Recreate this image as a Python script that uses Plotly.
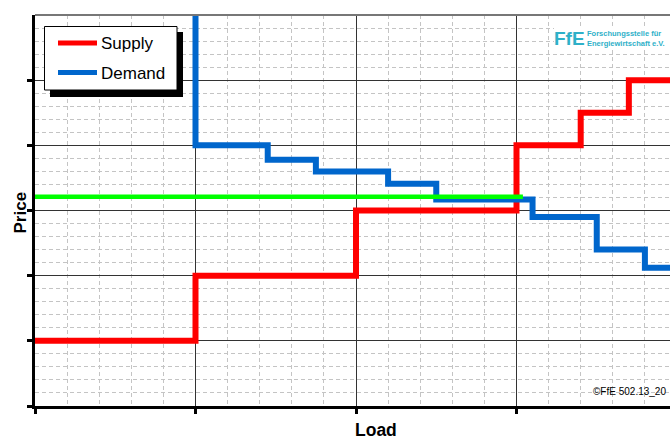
import plotly.graph_objects as go

# ---- data ----
supply_x = [0, 5, 10, 15, 17, 18.5, 21]
supply_y = [5, 10, 15, 20, 22.5, 25, 25]

demand_x = [5, 5, 7.25, 8.75, 11, 12.5, 15.5, 17.5, 19, 21]
demand_y = [35, 20, 18.9, 18.0, 17.05, 15.85, 14.5, 12.0, 10.6, 10.6]

price_x = [0, 15.2]
price_y = [16.05, 16.05]

series_names = ["Supply", "Demand"]
x_title = "Load"
y_title = "Price"

# ---- layout geometry ----
W, H = 670, 440
L, R, T, B = 35, 0, 15, 34
PW, PH = W - L - R, H - T - B
PX_PER_X = 32.1
FONT = "Liberation Sans, Arial, sans-serif"


def px(x):
    return (x - L) / PW


def py(y):
    return (H - B - y) / PH


fig = go.Figure()
fig.add_trace(go.Scatter(x=supply_x, y=supply_y, mode="lines", line_shape="hv",
                         line=dict(color="#ff0000", width=6), name=series_names[0],
                         showlegend=False))
fig.add_trace(go.Scatter(x=demand_x, y=demand_y, mode="lines", line_shape="hv",
                         line=dict(color="#0066cc", width=6), name=series_names[1],
                         showlegend=False))
fig.add_trace(go.Scatter(x=price_x, y=price_y, mode="lines",
                         line=dict(color="#00ff00", width=4.5), name="Price",
                         showlegend=False))

axis_common = dict(
    showline=True, linewidth=3, linecolor="black",
    ticks="outside", ticklen=5, tickwidth=3, tickcolor="black",
    showticklabels=False, zeroline=False,
    showgrid=True, gridcolor="#333333", gridwidth=1,
)

fig.update_xaxes(range=[0, PW / PX_PER_X], tickmode="array", tickvals=[0, 5, 10, 15],
                 minor=dict(dtick=1, tick0=0, showgrid=True, gridcolor="#c4c4c4",
                            griddash="4px,3px", gridwidth=1),
                 **axis_common)
fig.update_yaxes(range=[0, 30], tickmode="array", tickvals=[0, 5, 10, 15, 20, 25],
                 minor=dict(dtick=1, tick0=0, showgrid=True, gridcolor="#c4c4c4",
                            griddash="4px,3px", gridwidth=1),
                 **axis_common)

shapes = []
# top border
shapes.append(dict(type="line", xref="paper", yref="paper", x0=0, x1=1, y0=1, y1=1,
                   line=dict(color="#777777", width=2), layer="above"))
# legend shadow + box
shapes.append(dict(type="rect", xref="paper", yref="paper",
                   x0=px(50), x1=px(183), y0=py(97), y1=py(32),
                   fillcolor="black", line=dict(width=0), layer="above"))
shapes.append(dict(type="rect", xref="paper", yref="paper",
                   x0=px(44.5), x1=px(177), y0=py(90), y1=py(26.5),
                   fillcolor="white", line=dict(color="black", width=1), layer="above"))
shapes.append(dict(type="line", xref="paper", yref="paper",
                   x0=px(58), x1=px(97), y0=py(43), y1=py(43),
                   line=dict(color="#ff0000", width=5), layer="above"))
shapes.append(dict(type="line", xref="paper", yref="paper",
                   x0=px(58), x1=px(97), y0=py(72.5), y1=py(72.5),
                   line=dict(color="#0066cc", width=5), layer="above"))
# logo background
shapes.append(dict(type="rect", xref="paper", yref="paper",
                   x0=px(554), x1=px(670), y0=py(49), y1=py(26),
                   fillcolor="white", line=dict(width=0), layer="above"))

annotations = [
    dict(text=series_names[0], x=px(99), y=py(43.5), xanchor="left", yanchor="middle",
         font=dict(family=FONT, size=17, color="black")),
    dict(text=series_names[1], x=px(99), y=py(73), xanchor="left", yanchor="middle",
         font=dict(family=FONT, size=17, color="black")),
    dict(text="<b>" + y_title + "</b>", x=px(20), y=py(212.5), textangle=-90,
         xanchor="center", yanchor="middle", font=dict(family=FONT, size=17, color="black")),
    dict(text="<b>" + x_title + "</b>", x=px(376), y=py(429.5), xanchor="center",
         yanchor="middle", font=dict(family=FONT, size=17.5, color="black")),
    dict(text="<b>FfE</b>", x=px(569.5), y=py(38), xanchor="center", yanchor="middle",
         font=dict(family=FONT, size=19, color="#2eb0c8")),
    dict(text="<b>Forschungsstelle für<br>Energiewirtschaft e.V.</b>", x=px(585), y=py(38),
         xanchor="left", yanchor="middle", align="left",
         font=dict(family=FONT, size=7.5, color="#2eb0c8")),
    dict(text="©FfE 502.13_20", x=px(591), y=py(391), xanchor="left", yanchor="middle",
         font=dict(family=FONT, size=10, color="black")),
]
for a in annotations:
    a.update(xref="paper", yref="paper", showarrow=False)

fig.update_layout(
    width=W, height=H,
    margin=dict(l=L, r=R, t=T, b=B, pad=0),
    paper_bgcolor="white", plot_bgcolor="white",
    shapes=shapes, annotations=annotations,
    showlegend=False,
)

fig.write_html("out.html", config={"displayModeBar": False},
               post_script="document.body.style.margin='0';document.body.style.overflow='hidden';")
